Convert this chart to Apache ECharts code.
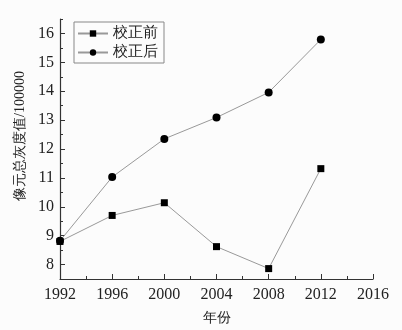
<!DOCTYPE html>
<html><head><meta charset="utf-8">
<script src="https://cdn.jsdelivr.net/npm/echarts@6/dist/echarts.min.js"></script>
<style>html,body{margin:0;padding:0;background:#fcfcfc}#c{width:402px;height:330px}</style>
</head><body><div id="c"></div>
<script>
var years = [1992, 1996, 2000, 2004, 2008, 2012];
var before = [8.80, 9.70, 10.14, 8.62, 7.86, 11.32];
var after = [8.82, 11.03, 12.35, 13.09, 13.96, 15.79];
var yMajorTicks = [8, 9, 10, 11, 12, 13, 14, 15, 16];
var yMinorTicks = [7.5, 8.5, 9.5, 10.5, 11.5, 12.5, 13.5, 14.5, 15.5, 16.5];
var seriesNames = ['校正前', '校正后'];

var font = 'Liberation Serif';
var chart = echarts.init(document.getElementById('c'));
chart.setOption({
  backgroundColor: '#fcfcfc',
  animation: false,
  grid: {left: 60, right: 29, top: 19, bottom: 50},
  legend: {
    orient: 'vertical', left: 74, top: 22,
    itemWidth: 30, itemHeight: 8, itemGap: 4,
    borderColor: '#888', borderWidth: 1, borderRadius: 0,
    padding: [4, 6, 3, 3],
    textStyle: {fontFamily: font, fontSize: 15, color: '#222'},
    data: seriesNames
  },
  xAxis: {
    type: 'value', min: 1992, max: 2016, interval: 4,
    name: '年份', nameLocation: 'middle', nameGap: 32,
    nameTextStyle: {fontFamily: font, fontSize: 14, color: '#222'},
    axisLine: {lineStyle: {color: '#333', width: 1.2}},
    axisTick: {inside: true, length: 5, lineStyle: {color: '#333'}},
    minorTick: {show: true, splitNumber: 2, length: 3, lineStyle: {color: '#333'}},
    axisLabel: {fontFamily: font, fontSize: 16, color: '#222', margin: 8,
      formatter: function (v) { return String(v); }},
    splitLine: {show: false}
  },
  yAxis: [{
    type: 'value', min: 7.5, max: 16.5,
    name: '像元总灰度值/100000', nameLocation: 'middle', nameGap: 28,
    nameTextStyle: {fontFamily: font, fontSize: 14, color: '#222', padding: [0, 0, 0, 26]},
    axisLine: {lineStyle: {color: '#333', width: 1.2}},
    axisTick: {inside: true, length: 5, customValues: yMajorTicks, lineStyle: {color: '#333'}},
    axisLabel: {fontFamily: font, fontSize: 16, color: '#222', margin: 6, customValues: yMajorTicks},
    splitLine: {show: false}
  }, {
    type: 'value', min: 7.5, max: 16.5, position: 'left',
    axisLine: {show: false},
    axisTick: {inside: true, length: 3, customValues: yMinorTicks, lineStyle: {color: '#333'}},
    axisLabel: {show: false},
    splitLine: {show: false}
  }],
  series: [{
    name: seriesNames[0], type: 'line', yAxisIndex: 0,
    data: years.map(function (y, i) { return [y, before[i]]; }),
    symbol: 'rect', symbolSize: 7,
    itemStyle: {color: '#000'},
    lineStyle: {color: '#999', width: 1}
  }, {
    name: seriesNames[1], type: 'line', yAxisIndex: 0,
    data: years.map(function (y, i) { return [y, after[i]]; }),
    symbol: 'circle', symbolSize: 8,
    itemStyle: {color: '#000'},
    lineStyle: {color: '#999', width: 1}
  }]
});
</script></body></html>
